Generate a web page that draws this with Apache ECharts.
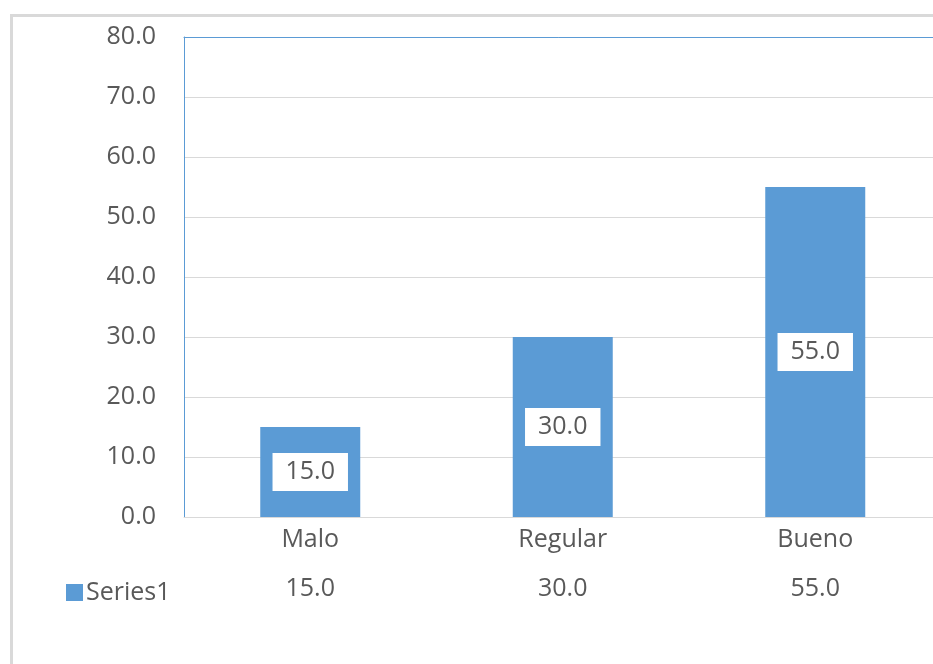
<!DOCTYPE html>
<html>
<head>
<meta charset="utf-8">
<style>
  html, body { margin: 0; padding: 0; background: #ffffff; overflow: hidden; }
  #chart { width: 933px; height: 664px; }
</style>
<script src="https://cdn.jsdelivr.net/npm/echarts@6/dist/echarts.min.js"></script>
</head>
<body>
<div id="chart"></div>
<script>
// Rating categories and their values
const categories = ['Malo', 'Regular', 'Bueno'];
const seriesName = 'Series1';
const values = [15.0, 30.0, 55.0];
const yTicks = { min: 0, max: 80, interval: 10 };

const textColor = '#595959';
const barColor = '#5b9bd5';
const edgeColor = '#5b9bd5';
const font = '"Open Sans", "Noto Sans", sans-serif';
const fontSize = 25;
const fmt = v => Number(v).toFixed(1);

const chart = echarts.init(document.getElementById('chart'), null, { renderer: 'canvas' });

chart.setOption({
  animation: false,
  backgroundColor: '#ffffff',
  textStyle: { fontFamily: font },
  graphic: [
    // chart-area frame (left and top edges)
    { type: 'line', shape: { x1: 11.5, y1: 15.5, x2: 11.5, y2: 664 }, style: { stroke: '#d9d9d9', lineWidth: 3 } },
    { type: 'line', shape: { x1: 10, y1: 15.5, x2: 933, y2: 15.5 }, style: { stroke: '#d9d9d9', lineWidth: 3 } }
  ],
  legend: {
    left: 61,
    top: 575,
    icon: 'rect',
    itemWidth: 17,
    itemHeight: 17,
    itemGap: 0,
    textStyle: { color: textColor, fontSize: fontSize, fontFamily: font, padding: [0, 0, 0, -2] },
    data: [seriesName]
  },
  grid: {
    // the plot area runs slightly past the right edge of the canvas
    left: 184,
    top: 37,
    width: 757.5,
    height: 480,
    show: false,
    containLabel: false,
    outerBoundsMode: 'none'
  },
  xAxis: [
    {
      type: 'category',
      data: categories,
      position: 'bottom',
      axisLine: { lineStyle: { color: '#d9d9d9', width: 1 } },
      axisTick: { show: false },
      axisLabel: { color: textColor, fontSize: fontSize, fontFamily: font, margin: 10 }
    },
    {
      // data table row beneath the category labels
      type: 'category',
      data: values.map(fmt),
      position: 'bottom',
      offset: 49,
      axisLine: { show: false },
      axisTick: { show: false },
      axisLabel: { color: textColor, fontSize: fontSize, fontFamily: font, margin: 10 }
    },
    {
      // top edge of the plot area
      type: 'category',
      data: categories,
      position: 'top',
      axisLine: { show: true, lineStyle: { color: edgeColor, width: 1 } },
      axisTick: { show: false },
      axisLabel: { show: false }
    }
  ],
  yAxis: {
    type: 'value',
    min: yTicks.min,
    max: yTicks.max,
    interval: yTicks.interval,
    axisLine: { show: true, lineStyle: { color: edgeColor } },
    axisTick: { show: false },
    axisLabel: { color: textColor, fontSize: fontSize, fontFamily: font, margin: 28, formatter: fmt },
    splitLine: { lineStyle: { color: '#d9d9d9', width: 1 } }
  },
  series: [
    {
      name: seriesName,
      type: 'bar',
      data: values,
      barWidth: 100,
      itemStyle: { color: barColor },
      label: {
        show: true,
        position: 'inside',
        formatter: p => fmt(p.value),
        color: textColor,
        fontSize: fontSize,
        fontFamily: font,
        backgroundColor: '#ffffff',
        padding: [5, 13, 5, 13],
        lineHeight: 28
      }
    }
  ]
});
</script>
</body>
</html>
